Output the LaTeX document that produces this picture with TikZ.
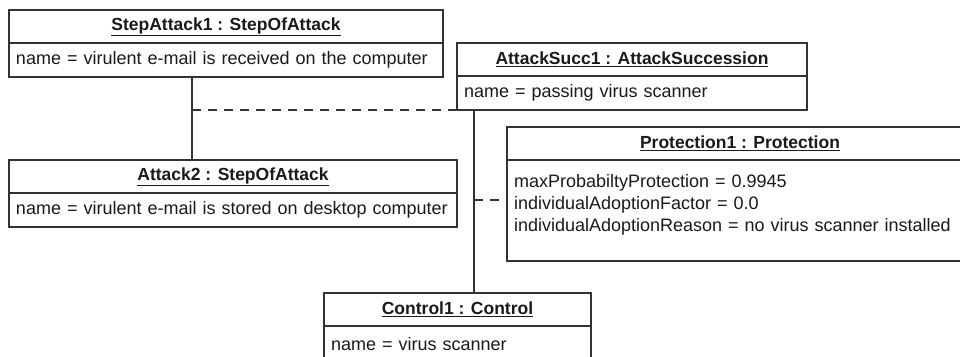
\documentclass[tikz,border=0pt]{standalone}
\usepackage{fontspec}
\setmainfont{Liberation Sans}
\definecolor{umlline}{HTML}{333333}
\definecolor{umltext}{HTML}{1A1A1A}
\tikzset{
  objhead/.style={draw=umlline, line width=1.2pt, anchor=north west, inner sep=0pt, outer sep=0pt,
    minimum width=#1, minimum height=33pt, text=umltext,
    font=\fontsize{17.5}{21}\selectfont\bfseries},
  objattr/.style={draw=umlline, line width=1.2pt, anchor=north west, inner xsep=7pt, inner ysep=0pt, outer sep=0pt,
    text width=#1-14pt, align=left, text=umltext,
    font=\fontsize{18}{22}\selectfont},
  linkline/.style={draw=umlline, line width=1.2pt},
  dashlink/.style={draw=umlline, line width=1.2pt, dash pattern=on 9pt off 7pt},
}
\begin{document}
\begin{tikzpicture}[x=1pt,y=-1pt]
\clip (0,0) rectangle (960,356);
\fill[white] (0,0) rectangle (960,356);

% StepAttack1
\node[objhead=434pt] (sa1h) at (9,10) {\underline{StepAttack1 : StepOfAttack}};
\node[objattr=434pt, minimum height=34pt] (sa1a) at (sa1h.south west) {name = virulent e-mail is received on the computer};

% Attack2
\node[objhead=448pt] (a2h) at (9,160) {\underline{Attack2 : StepOfAttack}};
\node[objattr=448pt, minimum height=34pt] (a2a) at (a2h.south west) {name = virulent e-mail is stored on desktop computer};

% AttackSucc1
\node[objhead=350pt] (as1h) at (457,43) {\underline{AttackSucc1 : AttackSuccession}};
\node[objattr=350pt, minimum height=34pt] (as1a) at (as1h.south west) {name = passing virus scanner};

% Protection1
\node[objhead=466pt] (p1h) at (507,127) {\underline{Protection1 : Protection}};
\node[objattr=466pt, minimum height=101pt] (p1a) at (p1h.south west) {maxProbabiltyProtection = 0.9945\\individualAdoptionFactor = 0.0\\individualAdoptionReason = no virus scanner installed\rule[-15pt]{0pt}{0pt}};

% Control1
\node[objhead=267pt] (c1h) at (324,293) {\underline{Control1 : Control}};
\node[objattr=267pt, minimum height=40pt] (c1a) at (c1h.south west) {name = virus scanner\rule[-4pt]{0pt}{0pt}};

% links
\coordinate (link1) at (192,110);
\coordinate (link2) at (474,200);
\draw[linkline] (link1 |- sa1a.south) -- (link1 |- a2h.north);
\draw[dashlink] (link1) -- (as1a.south west);
\draw[linkline] (link2 |- as1a.south) -- (link2 |- c1h.north);
\draw[dashlink] (link2) -- (link2 -| p1a.west);
\end{tikzpicture}
\end{document}
